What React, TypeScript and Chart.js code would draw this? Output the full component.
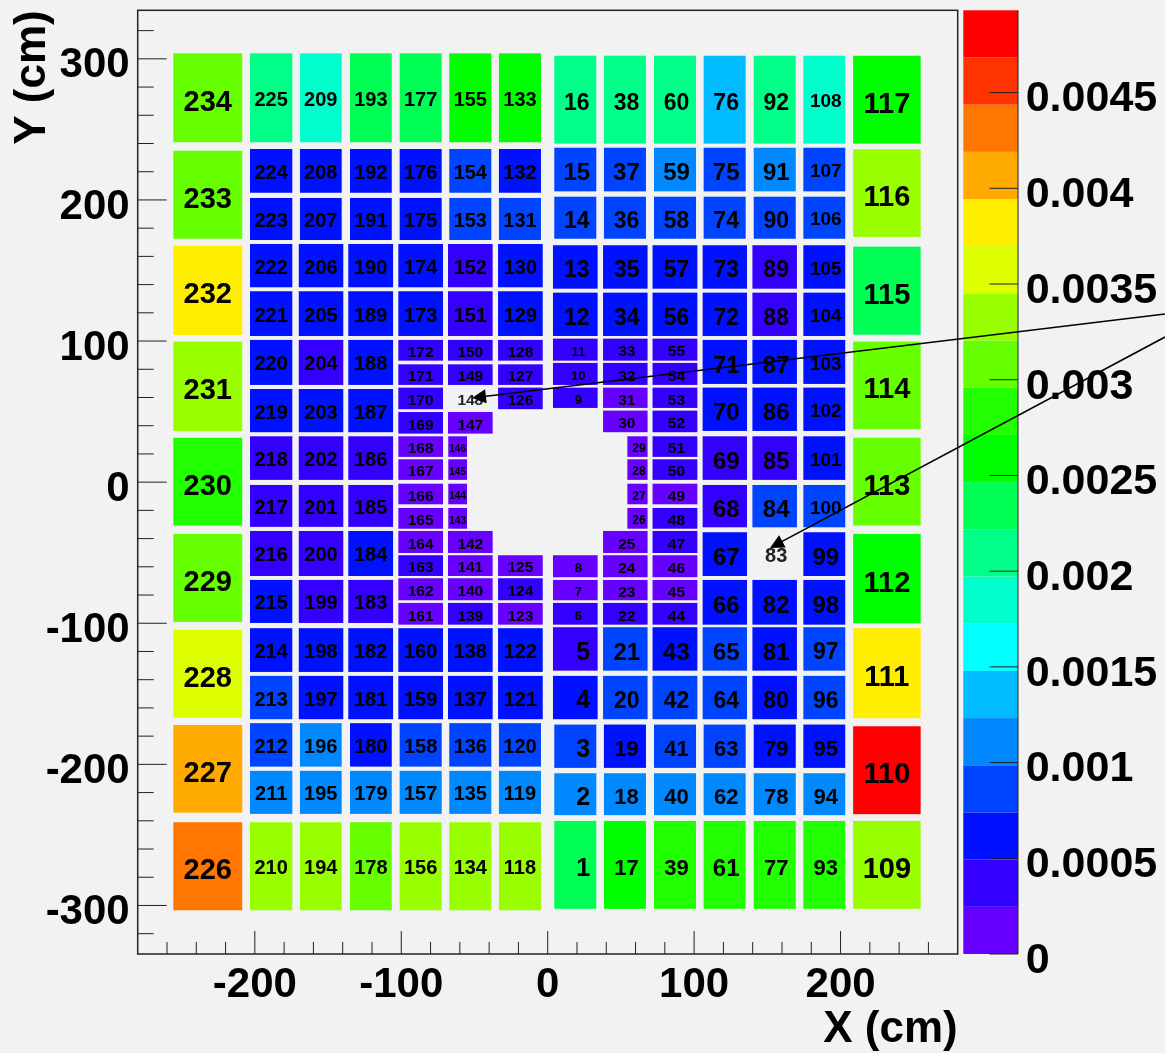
import React, { useEffect, useRef } from "react";
import { Chart, registerables } from "chart.js";
Chart.register(...registerables);

const FONT = "'Liberation Sans', Arial, sans-serif";
const BG = "#f2f2f2";

// Axis ranges and ticks (cm, and the colour-scale content)
const X_RANGE = [-280, 280];
const Y_RANGE = [-334.4, 334.4];
const Z_MAX = 0.00493;
const X_TICKS = [-200, -100, 0, 100, 200];
const Y_TICKS = [-300, -200, -100, 0, 100, 200, 300];
const X_MINOR = [-260, -240, -220, -180, -160, -140, -120, -80, -60, -40, -20, 20, 40, 60, 80, 120, 140, 160, 180, 220, 240, 260];
const Y_MINOR = [-320, -280, -260, -240, -220, -180, -160, -140, -120, -80, -60, -40, -20, 20, 40, 60, 80, 120, 140, 160, 180, 220, 240, 260, 280, 320];
const Z_TICKS = [0, 0.0005, 0.001, 0.0015, 0.002, 0.0025, 0.003, 0.0035, 0.004, 0.0045];

const PALETTE = [
  "#6600ff", "#3300ff", "#0011ff", "#0044ff", "#0088ff", "#00bbff", "#00ffff", "#00ffcc", "#00ff88", "#00ff55",
  "#00ff00", "#22ff00", "#66ff00", "#99ff00", "#ddff00", "#ffee00", "#ffaa00", "#ff7700", "#ff3300", "#ff0000",
];

// Cell contents, index = cell number - 1, in units of 1e-3; null = no fill
const cellValues: (number | null)[] = [
  2.35, 1.11, .86, .62, .37, .37, .12, .12, .37, .37, .37, .62, .62, .86, .86, 2.1,
  2.59, 1.11, .62, .86, .86, .37, .12, .12, .12, .12, .12, .12, .12, .12, .12, .37, .37, .62, .62, .86, .86, 2.1,
  2.84, 1.11, .86, .86, .62, .37, .12, .12, .37, .37, .12, .37, .37, .37, .37, .37, .37, .62, .62, .86, 1.11, 2.1,
  2.84, 1.11, .86, .86, .86, .62, .62, .37, .37, .62, .62, .62, .62, .86, .86, 1.36,
  2.84, 1.11, .62, .62, .62, .62, null, .86, .37, .62, .62, .37, .37, .86, 1.11, 2.1,
  2.84, 1.11, .62, .86, .86, .62, .62, .86, .62, .62, .62, .62, .62, .86, .86, 1.85,
  3.34, 4.82, 3.83, 2.59, 3.09, 3.09, 2.35, 3.34, 2.59,
  3.34, 1.11, .86, .62, .62, .12, .37, .12, .37, .37, .37, .62, .62, .86, .62, 2.59,
  3.34, 1.11, .86, .62, .62, .37, .12, .12, .12, .12, .12, .12, .12, .12, null, .37, .37, .37, .37, .86, .86, 2.59,
  3.34, 1.11, .86, .62, .62, .12, .12, .37, .12, .12, .12, .12, .12, .37, .37, .37, .37, .62, .62, .62, .62, 2.35,
  3.09, 1.11, .62, .62, .62, .37, .62, .37, .37, .62, .62, .62, .62, .62, .62, 2.35,
  3.34, 1.11, 1.11, .62, .62, .37, .37, .37, .37, .62, .37, .62, .62, .62, .62, 1.85,
  3.34, 1.11, .86, .86, .62, .62, .37, .37, .37, .62, .62, .62, .62, .62, .62, 2.1,
  4.32, 4.08, 3.58, 3.09, 2.84, 3.34, 3.83, 3.09, 3.09,
];

// Detector geometry in cm: [low, high] spans
type Span = number[];
const yTopL: Span[] = [[240.9, 303.9]];
const yTopR: Span[] = [[239.9, 302.2]];
const yL: Span[] = [[205.1, 236.1], [171.6, 201.4], [138.1, 168.8], [103.6, 135.3], [68.9, 100.8], [35.4, 66.0], [1.6, 32.5], [-31.7, -2.0], [-66.5, -34.6], [-99.8, -69.3], [-134.5, -103.5], [-168.0, -137.3], [-201.6, -170.8], [-235.1, -204.6], [-303.4, -241.0]];
const yR: Span[] = [[206.1, 237.0], [172.5, 202.3], [137.1, 167.9], [103.6, 134.3], [69.6, 100.8], [36.3, 67.0], [1.6, 32.5], [-32.0, -2.0], [-66.5, -35.5], [-101.0, -69.3], [-133.6, -102.8], [-168.0, -137.3], [-202.5, -171.8], [-236.0, -206.3], [-302.4, -240.1]];
const yS: Span[] = [[86.1, 100.8], [68.9, 83.5], [51.7, 67.0], [34.4, 49.7], [17.9, 32.5], [1.6, 16.2], [-15.7, -1.1], [-33.0, -18.3], [-50.2, -34.6], [-66.5, -51.8], [-83.7, -68.1], [-101.0, -85.6]];
const ySR: Span[] = [[86.1, 101.7], [68.9, 84.5], [52.6, 67.0], [35.4, 50.7], [17.9, 32.5], [1.6, 16.2], [-15.7, -1.1], [-33.0, -18.3], [-50.2, -34.6], [-67.4, -51.8], [-83.7, -69.3], [-101.0, -85.6]];
const yBigL: Span[] = [[240.9, 303.9], [172.5, 234.9], [104.3, 167.6], [36.3, 99.6], [-30.8, 31.5], [-99.1, -36.7], [-167.1, -104.7], [-234.2, -172.1], [-303.4, -241.0]];
const yBigR: Span[] = [[239.9, 302.2], [173.8, 235.9], [104.5, 166.9], [37.5, 99.6], [-30.8, 31.5], [-100.0, -36.7], [-167.3, -103.5], [-235.3, -173.0], [-302.4, -240.1]];

const xBigL = [-255.7, -208.6], xBigR = [208.6, 254.7];
const xL1 = [-203.3, -174.4];
const xL2n = [-169.2, -140.7], xL2w = [-170.0, -139.6];
const xL3n = [-135.0, -106.5], xL3w = [-136.2, -105.6];
const xL4n = [-101.1, -72.4], xL4w = [-102.0, -71.5];
const xL5n = [-67.2, -38.5], xL5w = [-68.1, -37.6], xL5s = [-67.9, -55.1];
const xL6n = [-33.3, -4.6], xL6w = [-33.9, -3.4];
const xR1n = [4.5, 33.2], xR1w = [3.6, 34.1];
const xR2n = [38.4, 67.1], xR2w = [37.8, 68.2], xR2s = [54.4, 68.2];
const xR3n = [72.6, 101.3], xR3w = [71.6, 102.2];
const xR4n = [106.5, 135.2], xR4w = [105.8, 136.1];
const xR5n = [140.7, 169.4], xR5w = [139.8, 170.2];
const xR6 = [174.6, 203.2];

// [highest cell id in the run (ids descend), x span, y spans]
const runs: [number, Span, Span[]][] = [
  [234, xBigL, yBigL],
  [225, xL1, [...yTopL, ...yL]],
  [209, xL2n, [...yTopL, ...yL.slice(0, 2)]], [206, xL2w, yL.slice(2, 12)], [196, xL2n, yL.slice(12)],
  [193, xL3n, [...yTopL, ...yL.slice(0, 2)]], [190, xL3w, yL.slice(2, 12)], [180, xL3n, yL.slice(12)],
  [177, xL4n, [...yTopL, ...yL.slice(0, 2)]], [174, xL4w, yL.slice(2, 4)], [172, xL4w, yS], [160, xL4w, yL.slice(10, 12)], [158, xL4n, yL.slice(12)],
  [155, xL5n, [...yTopL, ...yL.slice(0, 2)]], [152, xL5w, yL.slice(2, 4)], [150, xL5w, yS.slice(0, 4)], [146, xL5s, yS.slice(4, 8)], [142, xL5w, yS.slice(8)], [138, xL5w, yL.slice(10, 12)], [136, xL5n, yL.slice(12)],
  [133, xL6n, [...yTopL, ...yL.slice(0, 2)]], [130, xL6w, yL.slice(2, 4)], [128, xL6w, yS.slice(0, 3)], [125, xL6w, yS.slice(9)], [122, xL6w, yL.slice(10, 12)], [120, xL6n, yL.slice(12)],
  [16, xR1n, [...yTopR, ...yR.slice(0, 2)]], [13, xR1w, yR.slice(2, 4)], [11, xR1w, ySR.slice(0, 3)], [8, xR1w, ySR.slice(9)], [5, xR1w, yR.slice(10, 12)], [3, xR1n, yR.slice(12)],
  [38, xR2n, [...yTopR, ...yR.slice(0, 2)]], [35, xR2w, yR.slice(2, 4)], [33, xR2w, ySR.slice(0, 4)], [29, xR2s, ySR.slice(4, 8)], [25, xR2w, ySR.slice(8)], [21, xR2w, yR.slice(10, 12)], [19, xR2n, yR.slice(12)],
  [60, xR3n, [...yTopR, ...yR.slice(0, 2)]], [57, xR3w, yR.slice(2, 4)], [55, xR3w, ySR], [43, xR3w, yR.slice(10, 12)], [41, xR3n, yR.slice(12)],
  [76, xR4n, [...yTopR, ...yR.slice(0, 2)]], [73, xR4w, yR.slice(2, 12)], [63, xR4n, yR.slice(12)],
  [92, xR5n, [...yTopR, ...yR.slice(0, 2)]], [89, xR5w, yR.slice(2, 12)], [79, xR5n, yR.slice(12)],
  [108, xR6, [...yTopR, ...yR]],
  [117, xBigR, yBigR],
];

// Arrows: [tail x, tail y, tip x, tip y] in cm
const arrows = [
  [421.6, 119.2, -51.7, 59.7],
  [421.6, 102.9, 151.8, -46.6],
];

// Label sizes
const labelGroups: [number, number[]][] = [
  [29, [109, 110, 111, 112, 113, 114, 115, 116, 117, 226, 227, 228, 229, 230, 231, 232, 233, 234]],
  [25, [1, 2, 3, 4, 5]],
  [24, [15, 37, 59, 75, 91, 21, 43, 65, 81, 69, 85, 68, 84, 67, 82, 66, 98, 99, 71, 87, 70, 86, 61]],
  [23, [13, 35, 57, 73, 89, 12, 34, 56, 72, 88, 14, 36, 58, 74, 90, 16, 38, 60, 76, 92, 20, 42, 64, 80, 96, 97]],
  [22, [19, 41, 63, 79, 95, 18, 40, 62, 78, 94, 17, 39, 77, 93]],
  [19, [100, 101, 102, 103, 104, 105, 106, 107, 108]],
  [15.5, [22, 23, 24, 25, 30, 31, 32, 33, 44, 45, 46, 47, 48, 49, 50, 51, 52, 53, 54, 55, 123, 124, 125, 126, 127, 128, 139, 140, 141, 142, 147, 148, 149, 150, 161, 162, 163, 164, 165, 166, 167, 168, 169, 170, 171, 172]],
  [13, [6, 7, 8, 9, 10, 11]],
  [12, [26, 27, 28, 29]],
  [10, [143, 144, 145, 146]],
];
const labelDx: [number, number[]][] = [
  [8, [1, 2, 3, 4, 5]],
  [3, [6, 7, 8, 9, 10, 11]],
];

const sizeOf = (id: number) => {
  for (const [s, ids] of labelGroups) if (ids.includes(id)) return s;
  return 20;
};
const dxOf = (id: number) => {
  for (const [d, ids] of labelDx) if (ids.includes(id)) return d;
  return id < 109 ? 1.5 : 0;
};
const dyOf = (size: number) => (size >= 29 ? 5 : size >= 22 ? 4 : 2.5);

const cells = runs.flatMap(([first, xs, ys]) =>
  ys.map((y, i) => ({ id: first - i, x0: xs[0], x1: xs[1], y0: y[0], y1: y[1], v: cellValues[first - i - 1] }))
);
const colourOf = (vE3: number) => {
  const lvl = Math.min(19, Math.floor((vE3 * 1e-3) / (Z_MAX / 20)));
  return PALETTE[lvl];
};

const drawPlugin = {
  id: "detectorCells",
  beforeDraw(chart: any) {
    // ROOT sets its axis labels a little below the tick they belong to
    for (const [id, dy] of [["y", 7], ["z", 7]] as [string, number][]) {
      const s = chart.scales[id];
      for (const item of s.getLabelItems(chart.chartArea)) {
        if (!item.__moved) { item.options.translation[1] += dy; item.__moved = true; }
      }
    }
  },
  afterDatasetsDraw(chart: any) {
    const { ctx, scales, chartArea: a } = chart;
    const X = scales.x, Y = scales.y, Z = scales.z;
    ctx.save();
    for (const c of cells) {
      if (c.v == null) continue;
      ctx.fillStyle = colourOf(c.v);
      const l = X.getPixelForValue(c.x0), r = X.getPixelForValue(c.x1);
      const t = Y.getPixelForValue(c.y1), b = Y.getPixelForValue(c.y0);
      ctx.fillRect(l, t, r - l, b - t);
    }
    ctx.fillStyle = "#000";
    ctx.textAlign = "center";
    ctx.textBaseline = "middle";
    for (const c of cells) {
      const size = sizeOf(c.id);
      const cx = (X.getPixelForValue(c.x0) + X.getPixelForValue(c.x1)) / 2 + dxOf(c.id);
      const cy = (Y.getPixelForValue(c.y0) + Y.getPixelForValue(c.y1)) / 2 + dyOf(size);
      ctx.font = `bold ${size}px ${FONT}`;
      ctx.fillStyle = c.v == null ? "#222" : "#000";
      ctx.fillText(String(c.id), cx, cy);
    }
    // frame and inward ticks
    ctx.strokeStyle = "#222";
    ctx.lineWidth = 1.5;
    ctx.strokeRect(a.left, a.top, a.right - a.left, a.bottom - a.top);
    ctx.lineWidth = 1;
    ctx.beginPath();
    const tick = (x0: number, y0: number, x1: number, y1: number) => {
      ctx.moveTo(x0, y0);
      ctx.lineTo(x1, y1);
    };
    for (const v of X_TICKS) { const p = X.getPixelForValue(v); tick(p, a.bottom, p, a.bottom - 23); }
    for (const v of X_MINOR) { const p = X.getPixelForValue(v); tick(p, a.bottom, p, a.bottom - 12); }
    for (const v of Y_TICKS) { const p = Y.getPixelForValue(v); tick(a.left, p, a.left + 29, p); }
    for (const v of Y_MINOR) { const p = Y.getPixelForValue(v); tick(a.left, p, a.left + 16, p); }
    ctx.stroke();
    // colour bar
    const barL = a.right + 5.6, barR = a.right + 60.3;
    PALETTE.forEach((col, i) => {
      const b = Z.getPixelForValue((i * Z_MAX) / 20), t = Z.getPixelForValue(((i + 1) * Z_MAX) / 20);
      ctx.fillStyle = col;
      ctx.fillRect(barL, t, barR - barL, b - t);
    });
    ctx.strokeStyle = "#222";
    ctx.beginPath();
    tick(barR, a.top, barR, a.bottom);
    for (const v of Z_TICKS) { const p = Z.getPixelForValue(v); tick(barR - 28.5, p, barR, p); }
    ctx.stroke();
    // arrows
    ctx.strokeStyle = "#000";
    ctx.fillStyle = "#000";
    ctx.lineWidth = 1.6;
    for (const [tx, ty, hx, hy] of arrows) {
      const x0 = X.getPixelForValue(tx), y0 = Y.getPixelForValue(ty);
      const x1 = X.getPixelForValue(hx), y1 = Y.getPixelForValue(hy);
      const ang = Math.atan2(y1 - y0, x1 - x0);
      ctx.beginPath();
      ctx.moveTo(x0, y0);
      ctx.lineTo(x1 - 8 * Math.cos(ang), y1 - 8 * Math.sin(ang));
      ctx.stroke();
      ctx.beginPath();
      ctx.moveTo(x1, y1);
      ctx.lineTo(x1 - 14 * Math.cos(ang) + 7 * Math.sin(ang), y1 - 14 * Math.sin(ang) - 7 * Math.cos(ang));
      ctx.lineTo(x1 - 14 * Math.cos(ang) - 7 * Math.sin(ang), y1 - 14 * Math.sin(ang) + 7 * Math.cos(ang));
      ctx.closePath();
      ctx.fill();
    }
    ctx.restore();
  },
};

export default function App() {
  const ref = useRef<HTMLCanvasElement>(null);
  useEffect(() => {
    const axisFont = { family: FONT, size: 42, weight: "bold" as const };
    const titleFont = { family: FONT, size: 44, weight: "bold" as const };
    const chart = new Chart(ref.current!, {
      type: "scatter",
      data: {
        datasets: [
          {
            label: "cells",
            data: cells.map((c) => ({ x: (c.x0 + c.x1) / 2, y: (c.y0 + c.y1) / 2 })),
            pointRadius: 0,
          },
        ],
      },
      plugins: [drawPlugin],
      options: {
        responsive: false,
        animation: false,
        layout: { padding: { top: 10.3, left: 0, right: 0, bottom: 0 } },
        plugins: { legend: { display: false }, tooltip: { enabled: false } },
        scales: {
          x: {
            type: "linear",
            min: X_RANGE[0],
            max: X_RANGE[1],
            grid: { display: false, drawTicks: false },
            border: { display: false },
            afterBuildTicks: (s: any) => { s.ticks = X_TICKS.map((value) => ({ value })); },
            afterFit: (s: any) => { s.height = 99; s.paddingLeft = 0; s.paddingRight = 0; },
            ticks: { autoSkip: false, maxRotation: 0, color: "#000", font: axisFont, padding: 6, callback: (v: any) => String(v) },
            title: { display: true, text: "X (cm)", align: "end", color: "#000", font: titleFont, padding: { top: 0, bottom: -3 } },
          },
          y: {
            type: "linear",
            position: "left",
            min: Y_RANGE[0],
            max: Y_RANGE[1],
            grid: { display: false, drawTicks: false },
            border: { display: false },
            afterBuildTicks: (s: any) => { s.ticks = Y_TICKS.map((value) => ({ value })); },
            afterFit: (s: any) => { s.width = 137.7; s.paddingTop = 0; s.paddingBottom = 0; },
            ticks: { autoSkip: false, color: "#000", font: axisFont, padding: 8, callback: (v: any) => String(v) },
            title: { display: true, text: "Y (cm)", align: "end", color: "#000", font: titleFont, padding: { top: 6, bottom: 0 } },
          },
          z: {
            type: "linear",
            position: "right",
            min: 0,
            max: Z_MAX,
            grid: { display: false, drawTicks: false },
            border: { display: false },
            afterBuildTicks: (s: any) => { s.ticks = Z_TICKS.map((value) => ({ value })); },
            afterFit: (s: any) => { s.width = 207.3; s.paddingTop = 0; s.paddingBottom = 0; },
            ticks: { autoSkip: false, color: "#000", font: { ...axisFont, size: 43 }, padding: 68, callback: (v: any) => String(v) },
          },
        },
      },
    } as any);
    return () => chart.destroy();
  }, []);
  return (
    <div style={{ position: "absolute", left: 0, top: 0, width: 1165, height: 1053, background: BG, overflow: "hidden" }}>
      <canvas ref={ref} width={1165} height={1053} style={{ display: "block" }} />
    </div>
  );
}
